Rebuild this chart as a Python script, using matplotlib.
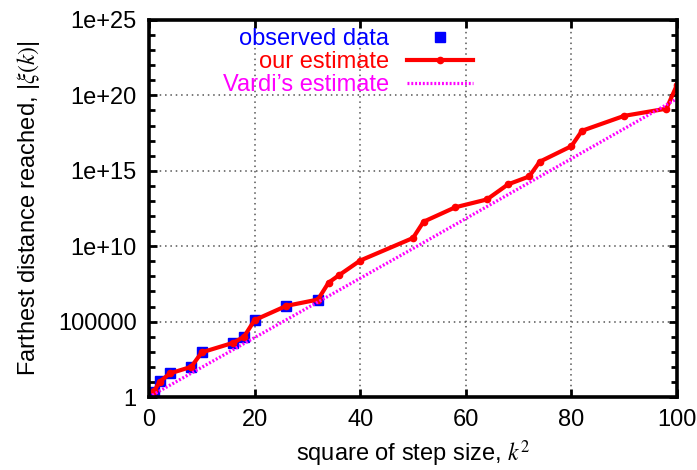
import matplotlib
matplotlib.use('Agg')
import matplotlib.pyplot as plt
from matplotlib.ticker import FixedLocator, FixedFormatter, NullFormatter

plt.rcParams['font.family'] = ['Liberation Sans', 'DejaVu Sans']
plt.rcParams['mathtext.fontset'] = 'stix'

# observed data (blue squares)
obs_k2 = [1, 2, 4, 8, 10, 16, 18, 20, 26, 32]
obs_dist = [2.3, 10.7, 38, 100, 955, 3980, 1.0e4, 1.26e5, 1.1e6, 2.9e6]

# our estimate (red line)
est_k2 = [1, 2, 4, 8, 10, 16, 18, 20, 26, 32, 34, 36, 40, 50, 52, 58, 64,
          68, 72, 74, 80, 82, 90, 98, 100]
est_dist = [2.5, 10.2, 37, 100, 912, 3980, 1.0e4, 1.26e5, 1.1e6, 2.9e6,
            3.8e7, 1.2e8, 1.12e9, 3.5e10, 4.2e11, 3.8e12, 1.26e13,
            1.26e14, 4.2e14, 4.0e15, 4.3e16, 4.5e17, 4.4e18, 1.32e19, 5.0e20]

# Vardi's estimate (magenta dotted)
vardi_k2 = [0, 50, 100]
vardi_dist = [1.0, 7.0e9, 6.0e19]

xticks = [0, 20, 40, 60, 80, 100]
yticks = [1, 1e5, 1e10, 1e15, 1e20, 1e25]
ytick_labels = ['1', '100000', '1e+10', '1e+15', '1e+20', '1e+25']
yminor = [10.0**e for e in range(26) if e % 5 != 0]

FS = 17

fig = plt.figure(figsize=(6.97, 4.70), dpi=100)
ax = fig.add_axes([149/697, 1 - 397/470, 528/697, 377/470])

ax.set_yscale('log')
ax.set_xlim(0, 100)
ax.set_ylim(1, 1e25)

l1, = ax.plot(obs_k2, obs_dist, linestyle='none', marker='s', markersize=6.8,
              color='#0000ff', zorder=3, label='observed data')
l2, = ax.plot(est_k2, est_dist, color='#ff0000', linewidth=3.0, marker='o',
              markersize=4.5, zorder=4, label='our estimate')
l3, = ax.plot(vardi_k2, vardi_dist, color='#ff00ff', linewidth=2.3,
              linestyle=(0, (0.6, 0.6)), zorder=5, label='Vardi\u2019s estimate')

ax.xaxis.set_major_locator(FixedLocator(xticks))
ax.yaxis.set_major_locator(FixedLocator(yticks))
ax.yaxis.set_major_formatter(FixedFormatter(ytick_labels))
ax.yaxis.set_minor_locator(FixedLocator(yminor))
ax.yaxis.set_minor_formatter(NullFormatter())

ax.grid(True, which='major', color='#555555', linestyle=(0, (1, 2.5)),
        linewidth=1.1, zorder=0)

for s in ax.spines.values():
    s.set_linewidth(2.6)
    s.set_zorder(6)

ax.tick_params(which='both', direction='in', top=True, right=True,
               labelsize=FS, colors='black')
ax.tick_params(which='major', length=6, width=2, pad=9)
ax.tick_params(which='minor', length=4, width=2)

ax.set_xlabel('square of step size, $k^2$', fontsize=FS, labelpad=5)
ax.set_ylabel('Farthest distance reached, |$\\xi(k)$|', fontsize=FS, labelpad=11)

leg = ax.legend(handles=[l1, l2, l3], loc='upper right',
                bbox_to_anchor=((473 - 149) / 528, 1 - 8 / 377),
                frameon=False, markerfirst=False, fontsize=FS,
                handlelength=2.8, handletextpad=0.75, labelspacing=0.05,
                borderpad=0, borderaxespad=0, numpoints=1,
                labelcolor=['#0000ff', '#ff0000', '#ff00ff'])
try:
    for col in leg._legend_handle_box.get_children():
        col.align = 'right'
except Exception:
    pass

fig.savefig('out.png', dpi=100)
